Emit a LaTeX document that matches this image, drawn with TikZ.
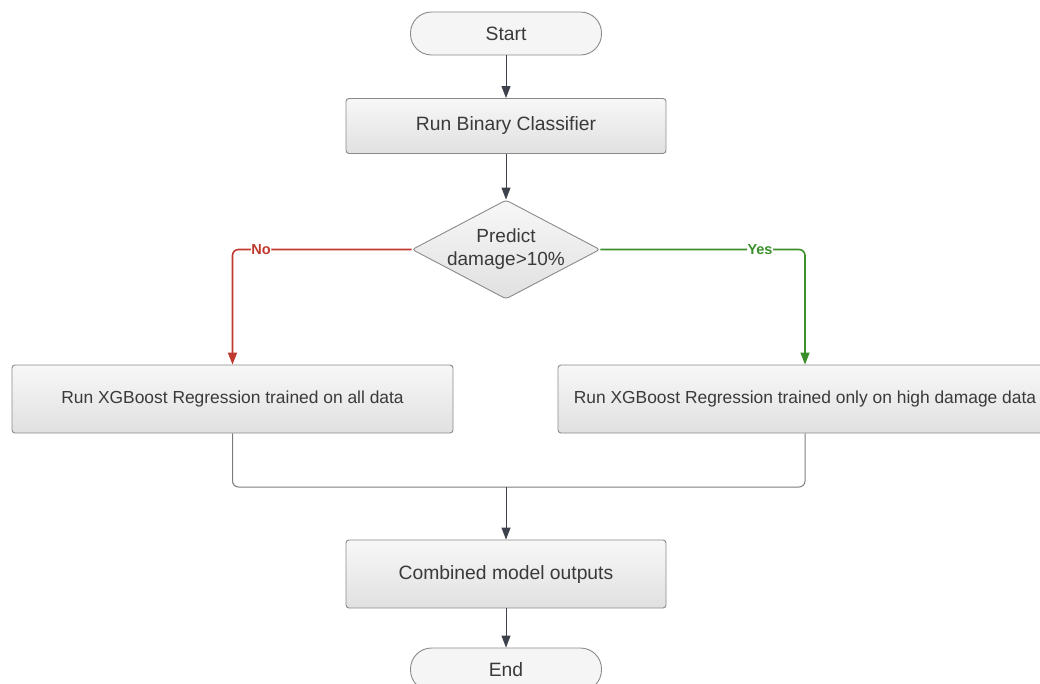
\documentclass[tikz,border=0pt]{standalone}
\usepackage{fontspec}
\setmainfont{Liberation Sans}
\usetikzlibrary{shapes.geometric,arrows.meta}
\definecolor{txt}{HTML}{3A3A3A}
\definecolor{edge}{HTML}{8A8A8A}
\definecolor{arrc}{HTML}{3D424D}
\definecolor{nored}{HTML}{C0392E}
\definecolor{yesgreen}{HTML}{3A8F2A}
\tikzset{
  x=1pt,y=-1pt,
  procbox/.style={draw=edge,line width=0.9pt,rounded corners=3pt,top color=white!97!black,bottom color=black!12,
    text=txt,font=\fontsize{19.3}{22}\selectfont,inner sep=0pt},
  widebox/.style={procbox,font=\fontsize{17.4}{20}\selectfont},
  termbox/.style={draw=edge,line width=0.9pt,rounded corners=21pt,fill=white!96!black,
    minimum width=191pt,minimum height=43pt,text=txt,font=\fontsize{19.3}{22}\selectfont,inner sep=0pt},
  decbox/.style={draw=edge,line width=0.9pt,diamond,rounded corners=3pt,top color=white!97!black,bottom color=black!12,
    minimum width=188pt,minimum height=99pt,inner sep=0pt},
  arr/.style={draw=arrc,line width=1pt,-{Triangle[length=12pt,width=9pt]}},
  joinline/.style={draw=edge!90!black,line width=1pt,rounded corners=6pt},
  noline/.style={draw=nored,line width=1.6pt,rounded corners=6pt,-{Triangle[length=12pt,width=9pt]}},
  yesline/.style={draw=yesgreen,line width=1.6pt,rounded corners=6pt,-{Triangle[length=12pt,width=9pt]}},
  lbl/.style={fill=white,inner sep=0.5pt,font=\bfseries\fontsize{14.5}{16}\selectfont},
}
\begin{document}
\begin{tikzpicture}
\useasboundingbox (0,0) rectangle (1040,683);
\clip (0,0) rectangle (1040,683);
\node[termbox] (start) at (506,33.5) {Start};
\node[procbox,minimum width=320pt,minimum height=55pt] (rbc) at (506,126) {Run Binary Classifier};
\node[decbox] (dec) at (506,249.5) {};
\node[text=txt,font=\fontsize{19}{23}\selectfont,align=center,inner sep=0pt] (dectext) at (506,249.5) {Predict\\damage>10\%};
\node[widebox,minimum width=441pt,minimum height=68pt] (lbox) at (232.5,399) {Run XGBoost Regression trained on all data};
\node[widebox,minimum width=494pt,minimum height=68pt] (rbox) at (805,399) {Run XGBoost Regression trained only on high damage data};
\node[procbox,minimum width=320pt,minimum height=68pt] (comb) at (506,574) {Combined model outputs};
\node[termbox] (end) at (506,669.5) {End};
\coordinate (m) at (506,487);

\draw[arr] (start) -- (rbc);
\draw[arr] (rbc) -- (dec);
\draw[noline] (dec.west) -| (lbox.north) node[lbl,text=nored,pos=0.42] {No};
\draw[yesline] (dec.east) -| (rbox.north) node[lbl,text=yesgreen,pos=0.39] {Yes};
\draw[joinline] (lbox.south) |- (m);
\draw[joinline] (rbox.south) |- (m);
\draw[arr] (m) -- (comb);
\draw[arr] (comb) -- (end);
\end{tikzpicture}
\end{document}
